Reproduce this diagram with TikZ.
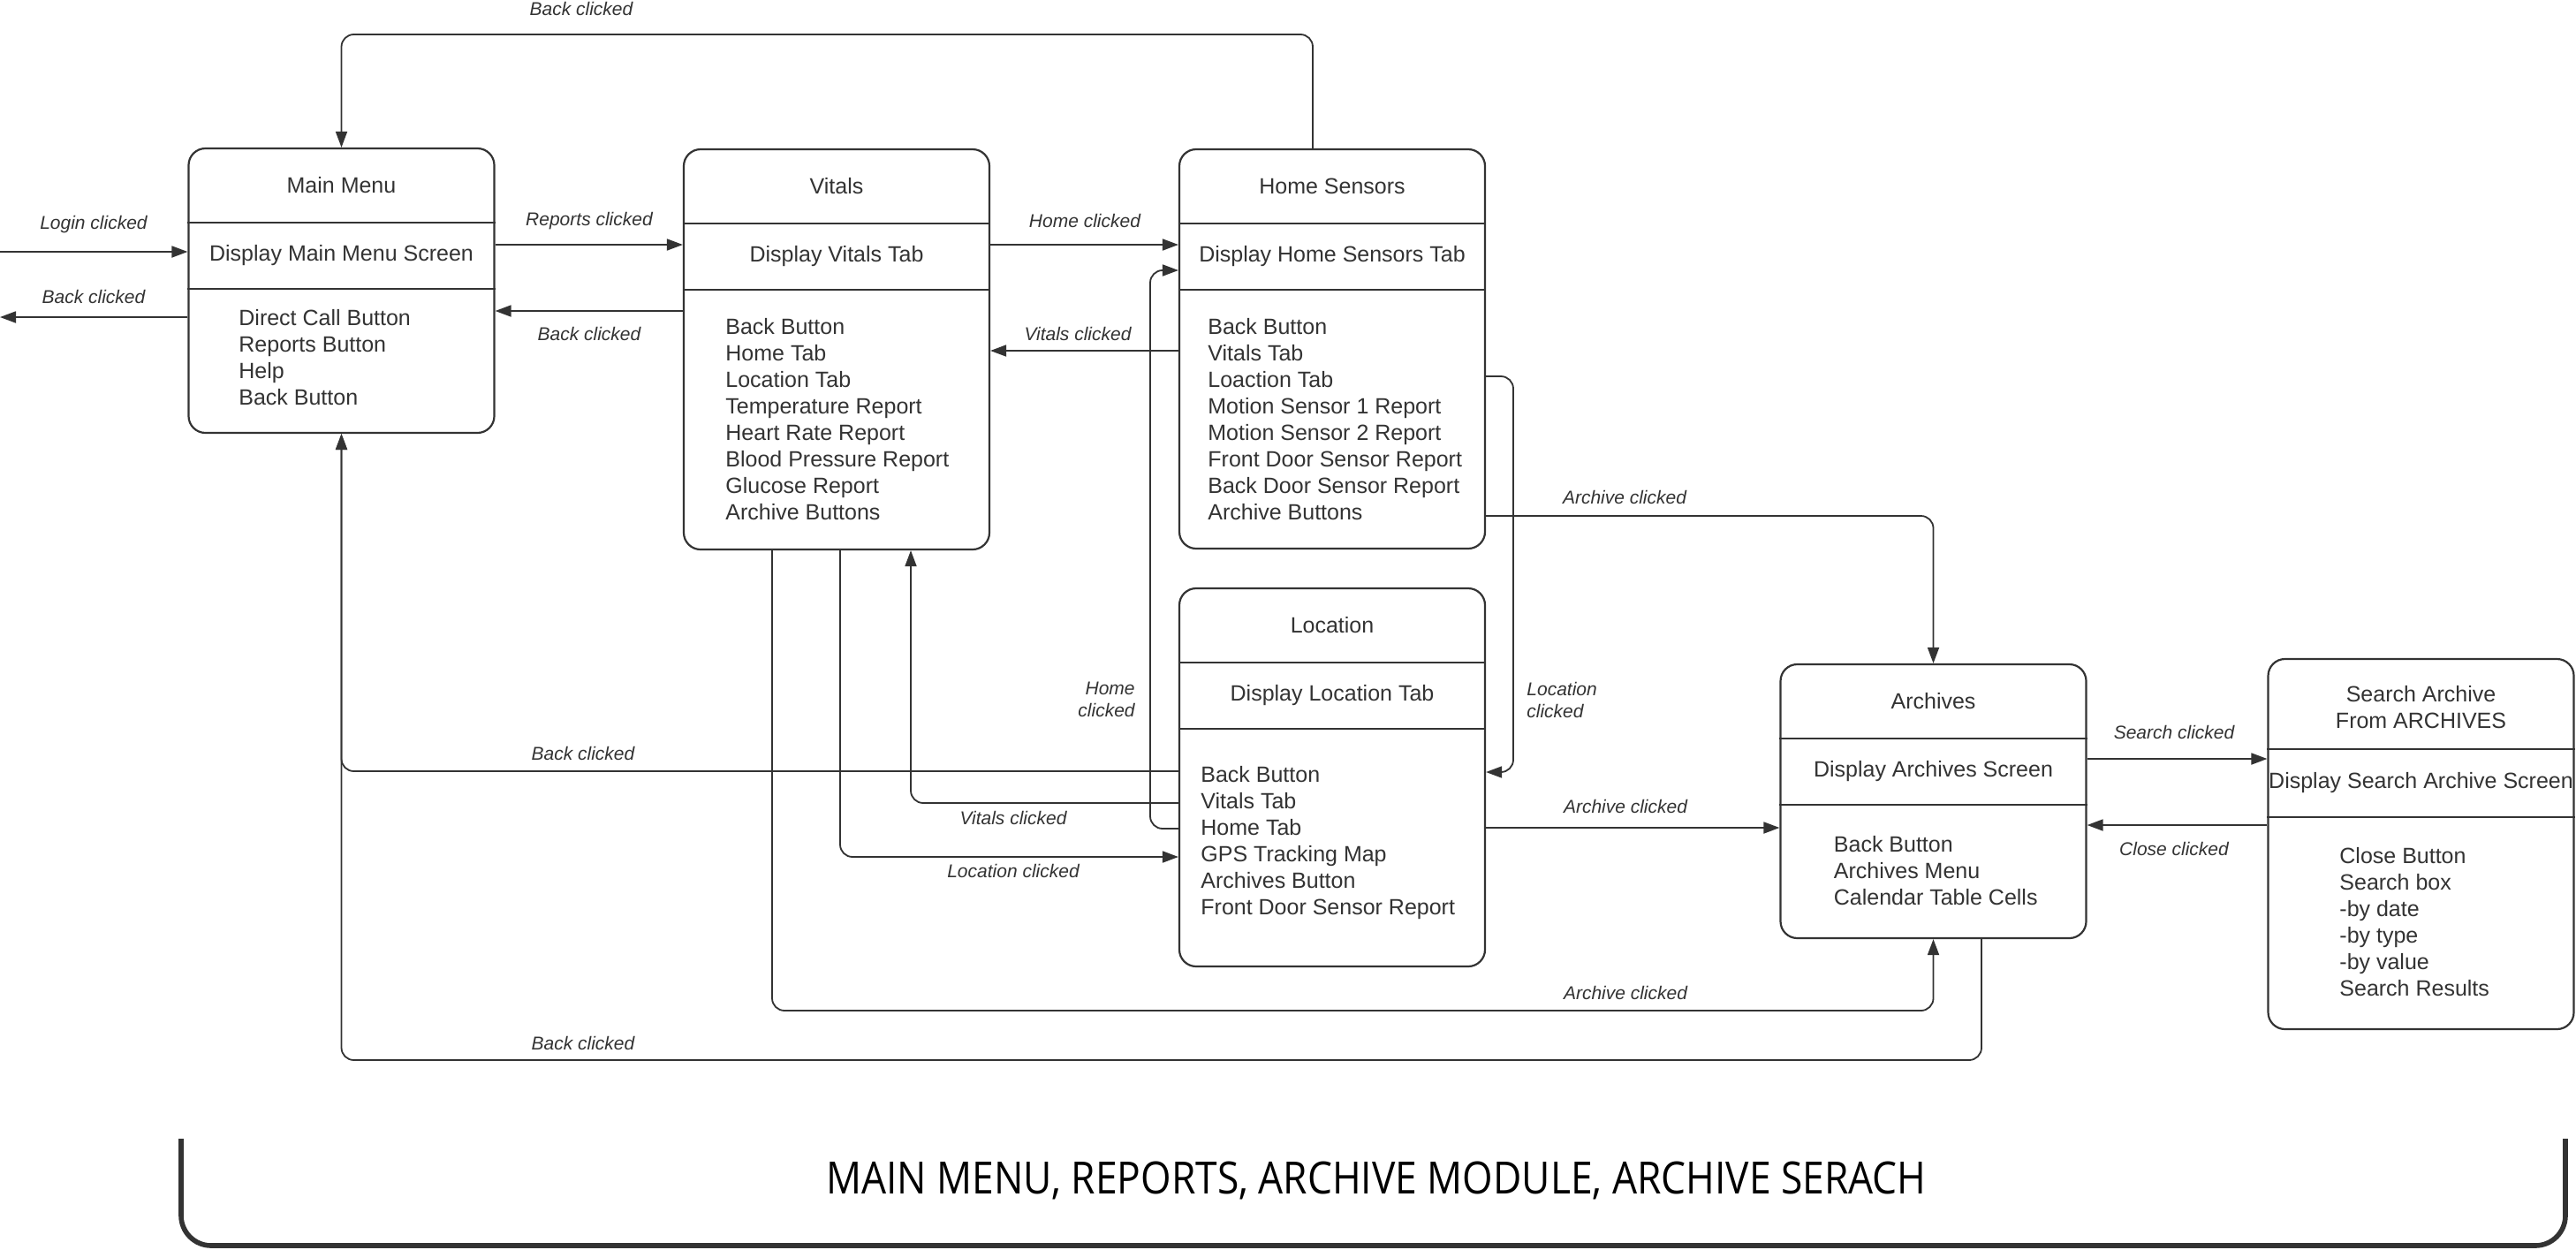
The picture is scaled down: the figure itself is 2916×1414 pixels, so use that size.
\documentclass[tikz,border=0pt]{standalone}
\usepackage{fontspec}
\setmainfont{Liberation Sans}
\newfontfamily\bannerfont[FakeStretch=0.88]{Open Sans}
\usetikzlibrary{arrows.meta}
\definecolor{ink}{HTML}{333333}

\tikzset{
  statebox/.style={draw=ink, line width=1.1pt, rounded corners=9.5pt, minimum width=173pt, inner sep=0pt},
  divider/.style={draw=ink, line width=1.4pt},
  title/.style={text=ink, font=\fontsize{12.5pt}{15pt}\selectfont, align=center, inner sep=0pt},
  items/.style={text=ink, font=\fontsize{12.5pt}{15pt}\selectfont, align=left, anchor=west, inner sep=0pt},
  link/.style={draw=ink, line width=0.9pt, rounded corners=7pt, -{Triangle[length=9pt,width=6.5pt]}},
  lbl/.style={text=ink, font=\fontsize{10.5pt}{12.5pt}\selectfont\itshape, inner sep=0pt},
  bracket/.style={draw=ink, line width=2.8pt, rounded corners=17pt}
}

\begin{document}
\begin{tikzpicture}[x=0.5pt, y=-0.5pt]
  \useasboundingbox[fill=white] (0,0) rectangle (2916,1414);

  % Main Menu
  \node[statebox, minimum height=161pt] (mm) at (386.5,329) {};
  \draw[divider] (mm.west |- 0,252) -- (mm.east |- 0,252);
  \draw[divider] (mm.west |- 0,327) -- (mm.east |- 0,327);
  \node[title] (mmT) at (386.5,210) {Main Menu};
  \node[title] (mmD) at (386.5,289.5) {Display Main Menu Screen};
  \node[items] (mmL) at (270,405) {Direct Call Button\\Reports Button\\Help\\Back Button};

  % Vitals
  \node[statebox, minimum height=226.5pt] (vt) at (947,395.5) {};
  \draw[divider] (vt.west |- 0,253) -- (vt.east |- 0,253);
  \draw[divider] (vt.west |- 0,328) -- (vt.east |- 0,328);
  \node[title] (vtT) at (947,211) {Vitals};
  \node[title] (vtD) at (947,290.5) {Display Vitals Tab};
  \node[items] (vtL) at (821,475) {Back Button\\Home Tab\\Location Tab\\Temperature Report\\Heart Rate Report\\Blood Pressure Report\\Glucose Report\\Archive Buttons};

  % Home Sensors
  \node[statebox, minimum height=226pt] (hs) at (1508,395) {};
  \draw[divider] (hs.west |- 0,253) -- (hs.east |- 0,253);
  \draw[divider] (hs.west |- 0,328) -- (hs.east |- 0,328);
  \node[title] (hsT) at (1508,211) {Home Sensors};
  \node[title] (hsD) at (1508,290.5) {Display Home Sensors Tab};
  \node[items] (hsL) at (1367,475) {Back Button\\Vitals Tab\\Loaction Tab\\Motion Sensor 1 Report\\Motion Sensor 2 Report\\Front Door Sensor Report\\Back Door Sensor Report\\Archive Buttons};

  % Location
  \node[statebox, minimum height=214pt] (loc) at (1508,880) {};
  \draw[divider] (loc.west |- 0,750) -- (loc.east |- 0,750);
  \draw[divider] (loc.west |- 0,825) -- (loc.east |- 0,825);
  \node[title] (locT) at (1508,708) {Location};
  \node[title] (locD) at (1508,787.5) {Display Location Tab};
  \node[items] (locL) at (1359,954) {Back Button\\Vitals Tab\\Home Tab\\GPS Tracking Map\\Archives Button\\Front Door Sensor Report};

  % Archives
  \node[statebox, minimum height=155pt] (arc) at (2188.5,907) {};
  \draw[divider] (arc.west |- 0,836) -- (arc.east |- 0,836);
  \draw[divider] (arc.west |- 0,911) -- (arc.east |- 0,911);
  \node[title] (arcT) at (2188.5,794) {Archives};
  \node[title] (arcD) at (2188.5,873.5) {Display Archives Screen};
  \node[items] (arcL) at (2075.5,986) {Back Button\\Archives Menu\\Calendar Table Cells};

  % Search Archive
  \node[statebox, minimum height=209.5pt] (sa) at (2740.5,955.5) {};
  \draw[divider] (sa.west |- 0,848) -- (sa.east |- 0,848);
  \draw[divider] (sa.west |- 0,925) -- (sa.east |- 0,925);
  \node[title] (saT) at (2740.5,801) {Search Archive\\From ARCHIVES};
  \node[title] (saD) at (2740.5,886.5) {Display Search Archive Screen};
  \node[items] (saL) at (2648,1044) {Close Button\\Search box\\-by date\\-by type\\-by value\\Search Results};

  % Entry and exit
  \coordinate (loginIn) at (0,285);
  \coordinate (backOut) at (0,359);
  \draw[link] (loginIn) -- (mm.west |- 0,285);
  \node[lbl] (lLogin) at (106,254) {Login clicked};
  \draw[link] (mm.west |- 0,359) -- (backOut);
  \node[lbl] (lBackOut) at (106,336) {Back clicked};

  % Main Menu <-> Vitals
  \draw[link] (mm.east |- 0,277) -- (vt.west |- 0,277);
  \node[lbl] (lReports) at (667,250) {Reports clicked};
  \draw[link] (vt.west |- 0,352) -- (mm.east |- 0,352);
  \node[lbl] (lBackVt) at (667,378) {Back clicked};

  % Vitals <-> Home Sensors
  \draw[link] (vt.east |- 0,277) -- (hs.west |- 0,277);
  \node[lbl] (lHome) at (1228,250) {Home clicked};
  \draw[link] (hs.west |- 0,397) -- (vt.east |- 0,397);
  \node[lbl] (lVitals) at (1220,378) {Vitals clicked};

  % Home Sensors back to Main Menu
  \draw[link] (hs.north -| 1486,0) |- (mm.north |- 0,39) -- (mm.north);
  \node[lbl] (lBackTop) at (658,10) {Back clicked};

  % Home Sensors to Location and Archives
  \draw[link] (hs.east |- 0,426) -- (1713,426) -- (1713,874) -- (loc.east |- 0,874);
  \node[lbl, align=left, anchor=west] (lLocHs) at (1728,792) {Location\\clicked};
  \draw[link] (hs.east |- 0,584) -| (arc.north);
  \node[lbl] (lArcHs) at (1839,563) {Archive clicked};

  % Location back to the others
  \draw[link] (loc.west |- 0,873) -| (mm.south);
  \node[lbl] (lBackLoc) at (660,853) {Back clicked};
  \draw[link] (loc.west |- 0,909) -| (vt.south -| 1031,0);
  \node[lbl] (lVitalsLoc) at (1147,926) {Vitals clicked};
  \draw[link] (loc.west |- 0,938) -| (1302,306) -- (hs.west |- 0,306);
  \node[lbl, align=right, anchor=east] (lHomeLoc) at (1285,792) {Home\\clicked};
  \draw[link] (loc.east |- 0,937) -- (arc.west |- 0,937);
  \node[lbl] (lArcLoc) at (1840,913) {Archive clicked};

  % Vitals to Location and Archives
  \draw[link] (vt.south -| 951,0) |- (loc.west |- 0,970);
  \node[lbl] (lLocVt) at (1147,986) {Location clicked};
  \draw[link] (vt.south -| 874,0) |- (arc.south |- 0,1144) -- (arc.south);
  \node[lbl] (lArcVt) at (1840,1124) {Archive clicked};

  % Archives back to Main Menu
  \draw[link] (arc.south -| 2243,0) |- (mm.south |- 0,1200) -- (mm.south);
  \node[lbl] (lBackArc) at (660,1181) {Back clicked};

  % Archives <-> Search Archive
  \draw[link] (arc.east |- 0,859) -- (sa.west |- 0,859);
  \node[lbl] (lSearch) at (2461,829) {Search clicked};
  \draw[link] (sa.west |- 0,934) -- (arc.east |- 0,934);
  \node[lbl] (lClose) at (2461,961) {Close clicked};

  % Module bracket
  \draw[bracket] (205,1289) -- (205,1410) -- (2904,1410) -- (2904,1289);
  \node[anchor=base, inner sep=0pt, font=\bannerfont\fontsize{25.2pt}{30pt}\selectfont] (banner) at (1558,1351) {MAIN MENU, REPORTS, ARCHIVE MODULE, ARCHIVE SERACH};
\end{tikzpicture}
\end{document}
